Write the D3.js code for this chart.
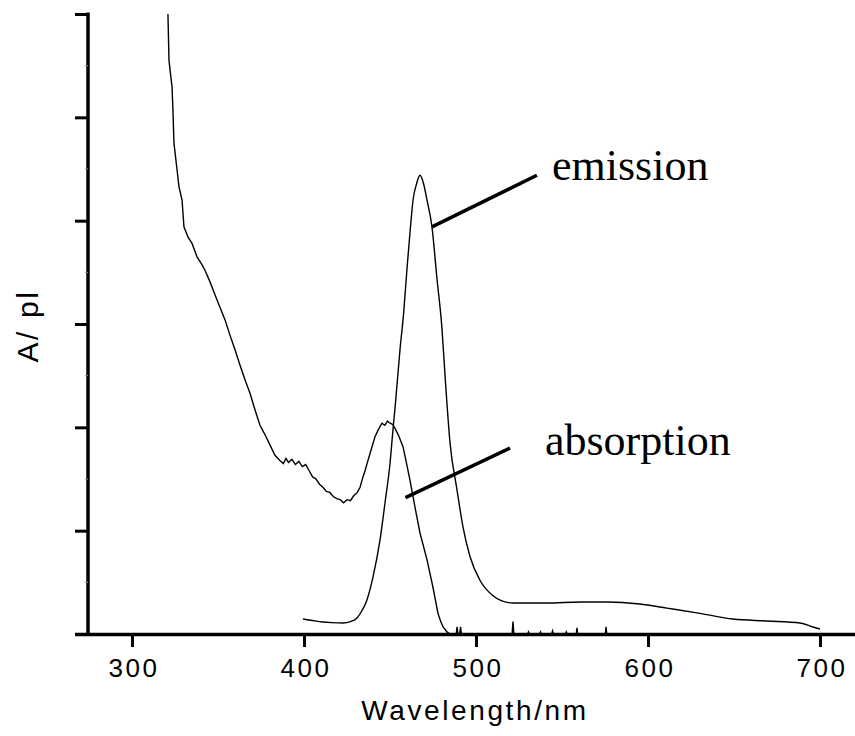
<!DOCTYPE html>
<html>
<head>
<meta charset="utf-8">
<script src="https://cdn.jsdelivr.net/npm/d3@7"></script>
<style>
  body { margin: 0; background: #fff; }
  .axis-title { font-family: Arial, "Liberation Sans", sans-serif; font-size: 28px; letter-spacing: 2.6px; }
  .note { font-family: "Times New Roman", "Liberation Serif", serif; font-size: 44px; }
</style>
</head>
<body>
<div id="chart"></div>
<script>
// wavelength (nm), absorbance (arbitrary units, 0..6 on the axis)
const absorption_wl = [320.9, 321.5, 323.3, 323.8, 324.4, 326.2, 327.3, 329.1, 330.2, 332.6, 334.9,
  337.8, 340.5, 342.4, 345.3, 348.3, 351.2, 354.1, 357.0, 359.9, 362.8, 365.7, 368.6, 371.5,
  374.4, 377.3, 380.2, 383.1, 386.0, 388.0, 389.5, 391.0, 393.0, 395.0, 397.0, 399.0, 401.0,
  403.0, 405.0, 407.0, 409.0, 411.0, 413.0, 415.0, 417.0, 419.0, 421.0, 423.0, 425.0, 427.0,
  429.0, 431.0, 432.6, 434.3, 435.5, 437.2, 439.0, 441.3, 443.0, 445.3, 447.0, 448.5, 450.0,
  451.5, 452.9, 455.0, 457.6, 459.5, 461.6, 464.5, 467.4, 471.5, 475.0, 477.9, 479.5, 480.8,
  483.1, 484.9, 488.5, 489.0, 489.5, 490.5, 491.0, 491.5, 521.0, 521.5, 522.0, 530.0, 530.5,
  531.0, 537.0, 537.5, 538.0, 544.0, 544.5, 545.0, 552.0, 552.5, 553.0, 558.3, 558.7, 559.1,
  575.2, 575.6, 576.0];
const absorption_val = [6.0, 5.55, 5.29, 5.07, 4.75, 4.49, 4.33, 4.20, 3.94, 3.84, 3.78,
  3.65, 3.58, 3.52, 3.41, 3.28, 3.16, 3.04, 2.89, 2.75, 2.60, 2.46, 2.33, 2.17,
  2.02, 1.93, 1.83, 1.73, 1.68, 1.65, 1.70, 1.66, 1.69, 1.64, 1.67, 1.62, 1.64,
  1.58, 1.52, 1.50, 1.45, 1.42, 1.38, 1.37, 1.33, 1.31, 1.30, 1.27, 1.30, 1.29,
  1.34, 1.37, 1.42, 1.52, 1.58, 1.68, 1.78, 1.91, 1.97, 2.04, 2.02, 2.06, 2.04,
  2.03, 1.99, 1.92, 1.81, 1.66, 1.49, 1.23, 0.98, 0.72, 0.45, 0.20, 0.12, 0.07,
  0.02, 0.0, 0.0, 0.07, 0.0, 0.0, 0.07, 0.0, 0.0, 0.12, 0.0, 0.0, 0.02,
  0.0, 0.0, 0.02, 0.0, 0.0, 0.03, 0.0, 0.0, 0.02, 0.0, 0.0, 0.06, 0.0,
  0.0, 0.07, 0.0];

const emission_wl = [399.4, 405.0, 411.0, 416.0, 422.7, 427.0, 430.8, 433.5, 436.6, 440.1, 444.2,
  447.1, 450.0, 451.7, 453.0, 455.8, 458.0, 459.9, 461.7, 463.4, 465.5, 467.4, 469.5, 471.5,
  474.4, 477.3, 480.2, 482.0, 484.9, 488.9, 492.4, 496.5, 502.3, 509.9, 515.0, 521.5, 541.3,
  560.5, 576.2, 595.3, 611.0, 630.2, 649.4, 669.2, 688.4, 695.9, 700.0];
const emission_val = [0.145, 0.13, 0.116, 0.11, 0.106, 0.12, 0.155, 0.22, 0.33, 0.55, 0.91,
  1.27, 1.65, 1.97, 2.20, 2.75, 3.12, 3.54, 3.90, 4.20, 4.36, 4.44, 4.36, 4.20,
  3.94, 3.44, 2.96, 2.50, 1.85, 1.40, 1.04, 0.75, 0.52, 0.37, 0.32, 0.30, 0.30,
  0.31, 0.31, 0.29, 0.25, 0.20, 0.145, 0.126, 0.106, 0.068, 0.048];

const x_ticks = [300, 400, 500, 600, 700];
const y_ticks = [0, 1, 2, 3, 4, 5, 6];
const y_minor = [0.5, 1.5, 2.5, 3.5, 4.5, 5.5];

// pointer lines: [wl, value] start (on curve) -> end (near label)
const pointers = [
  { name: "emission", from: [474.4, 3.94], to: [535.4, 4.44], label: [544.2, 4.39] },
  { name: "absorption", from: [459.0, 1.32], to: [519.8, 1.80], label: [540.1, 1.73] }
];

const width = 855, height = 736;

const x = d3.scaleLinear().domain([300, 700]).range([132, 820]);
const y = d3.scaleLinear().domain([0, 6]).range([634, 14]);

const svg = d3.select("#chart").append("svg")
  .attr("width", width)
  .attr("height", height);

// curves
const line = d3.line()
  .x((d) => x(d[0]))
  .y((d) => y(d[1]));

const absorption = absorption_wl.map((w, i) => [w, absorption_val[i]]);
const emission = emission_wl.map((w, i) => [w, emission_val[i]]);

svg.append("path")
  .datum(absorption)
  .attr("d", line)
  .attr("fill", "none")
  .attr("stroke", "#000")
  .attr("stroke-width", 1.4);

svg.append("path")
  .datum(emission)
  .attr("d", d3.line().curve(d3.curveMonotoneX).x((d) => x(d[0])).y((d) => y(d[1])))
  .attr("fill", "none")
  .attr("stroke", "#000")
  .attr("stroke-width", 1.4);

// x axis
const x_axis = svg.append("g")
  .attr("transform", "translate(0," + y(0) + ")")
  .call(d3.axisBottom(x).tickValues(x_ticks).tickSize(13).tickSizeOuter(0));
x_axis.select(".domain").remove();
x_axis.selectAll(".tick line").attr("stroke", "#000").attr("stroke-width", 3);
x_axis.selectAll(".tick text")
  .attr("fill", "#000")
  .attr("y", 43)
  .attr("dy", 0)
  .attr("dx", 1.5)
  .style("font-family", "Arial, 'Liberation Sans', sans-serif")
  .style("font-size", "26px")
  .style("letter-spacing", "2.5px");
svg.append("line")
  .attr("x1", 75).attr("x2", width)
  .attr("y1", y(0) + 0.5).attr("y2", y(0) + 0.5)
  .attr("stroke", "#000").attr("stroke-width", 3.5);

// y axis
const y_axis = svg.append("g")
  .attr("transform", "translate(88,0)")
  .call(d3.axisLeft(y).tickValues(y_ticks).tickSize(13).tickSizeOuter(0).tickFormat(""));
y_axis.select(".domain").remove();
y_axis.selectAll(".tick line").attr("stroke", "#000").attr("stroke-width", 3);
svg.append("line")
  .attr("x1", 88).attr("x2", 88)
  .attr("y1", y(6) - 1.5).attr("y2", y(0) + 2)
  .attr("stroke", "#000").attr("stroke-width", 3.5);

svg.selectAll(".minor")
  .data(y_minor)
  .enter().append("line")
  .attr("class", "minor")
  .attr("x1", 85).attr("x2", 88)
  .attr("y1", (d) => y(d)).attr("y2", (d) => y(d))
  .attr("stroke", "#888").attr("stroke-width", 1);

// axis titles
svg.append("text")
  .attr("class", "axis-title")
  .attr("x", 475)
  .attr("y", 720)
  .attr("text-anchor", "middle")
  .text("Wavelength/nm");

svg.append("text")
  .attr("class", "axis-title")
  .attr("transform", "translate(38,326) rotate(-90)")
  .attr("text-anchor", "middle")
  .style("font-size", "30px")
  .text("A/ pl");

// pointers and labels
pointers.forEach((p) => {
  svg.append("line")
    .attr("x1", x(p.from[0])).attr("y1", y(p.from[1]))
    .attr("x2", x(p.to[0])).attr("y2", y(p.to[1]))
    .attr("stroke", "#000").attr("stroke-width", 3.5);
  svg.append("text")
    .attr("class", "note")
    .attr("x", x(p.label[0]))
    .attr("y", y(p.label[1]))
    .text(p.name);
});
</script>
</body>
</html>
